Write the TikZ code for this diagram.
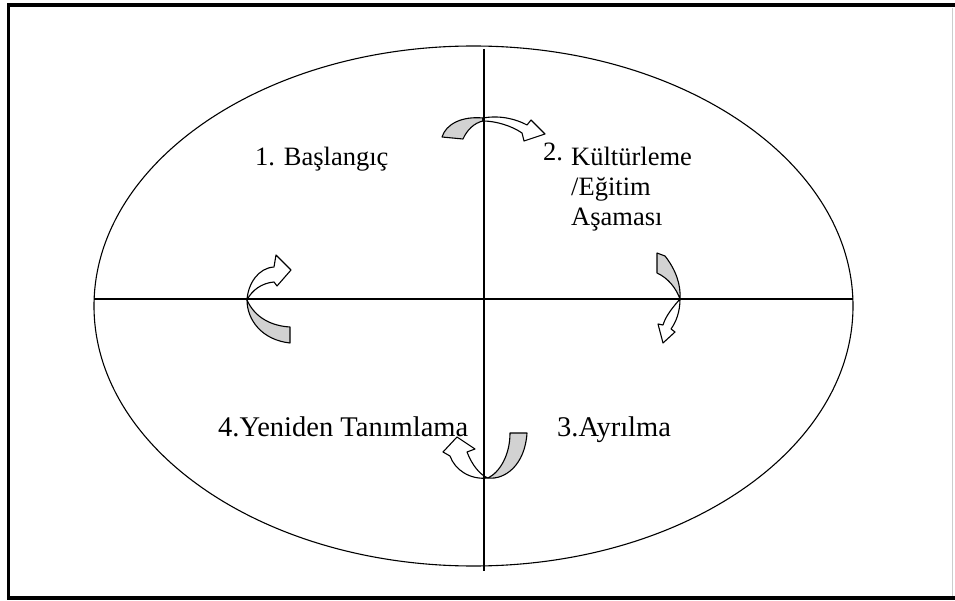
\documentclass[tikz,border=0pt]{standalone}
\usepackage{fontspec}
\setmainfont{Liberation Serif}
\newfontfamily\trfont{Liberation Serif}
\tikzset{
  lbl/.style={inner sep=0pt, anchor=base west, font=\trfont\fontsize{28.5}{32}\selectfont},
  toplbl/.style={lbl, font=\trfont\fontsize{26.5}{30}\selectfont},
  back/.style={draw, line width=1.1pt, fill=gray!35, line join=round},
  front/.style={draw, line width=1.1pt, fill=white, line join=round}
}
\begin{document}
\begin{tikzpicture}[x=1pt, y=-1pt]
\useasboundingbox (0,0) rectangle (955,601);
% frame
\draw[line width=3.5pt] (957,5) -- (8.5,5) -- (8.5,598) -- (957,598);
\draw[gray!40, line width=.8pt] (952,8) -- (952,596);
\draw[line width=1.1pt] (473.5,306) ellipse [x radius=379.5, y radius=260];
% top arrow
\draw[back] (483,118) .. controls (462,116) and (446,124) .. (442,137) -- (463,139) .. controls (467,130) and (474,123) .. (483,121) -- cycle;
\draw[front] (483,118) .. controls (500,115) and (516,119) .. (527,125) -- (531,120) -- (545,134) -- (524,141) -- (522,133) .. controls (512,126) and (496,121) .. (483,121) -- cycle;
% right arrow
\draw[back] (657,253) -- (665,256) .. controls (676,270) and (681,285) .. (680,299) .. controls (676,288) and (668,278) .. (657,273) -- cycle;
\draw[front] (680,299) .. controls (680,312) and (676,322) .. (671,329) -- (675,332) -- (663,343) -- (658,324) -- (663,325) .. controls (666,315) and (674,306) .. cycle;
% left arrow
\draw[back] (247,300) .. controls (247,320) and (262,340) .. (290,343) -- (290,327) .. controls (272,326) and (255,318) .. cycle;
\draw[front] (247,300) .. controls (252,290) and (262,283) .. (274,282) -- (277,286) -- (291,270) -- (276,255) -- (274,267) .. controls (258,268) and (248,284) .. cycle;
% bottom arrow
\draw[back] (488,478) .. controls (505,480) and (525,465) .. (527,433) -- (510,433) .. controls (510,455) and (500,472) .. cycle;
\draw[front] (488,478) .. controls (470,480) and (455,470) .. (450,456) -- (443,452) -- (457,437) -- (475,449) -- (467,452) .. controls (472,465) and (480,475) .. cycle;
% axes
\draw[line width=1.4pt] (94,299) -- (853,299);
\draw[line width=1.4pt] (484,49) -- (484,571);
% labels
\node[toplbl] (start) at (255,166) {1. Başlangıç};
\node[toplbl] (two) at (543,161) {2.};
\node[toplbl] (culture) at (571,166) {Kültürleme};
\node[toplbl] (education) at (571,196) {/Eğitim};
\node[toplbl] (stage) at (571,226) {Aşaması};
\node[lbl] (redef) at (218,436) {4.Yeniden Tanımlama};
\node[lbl] (split) at (557,436) {3.Ayrılma};
\end{tikzpicture}
\end{document}
